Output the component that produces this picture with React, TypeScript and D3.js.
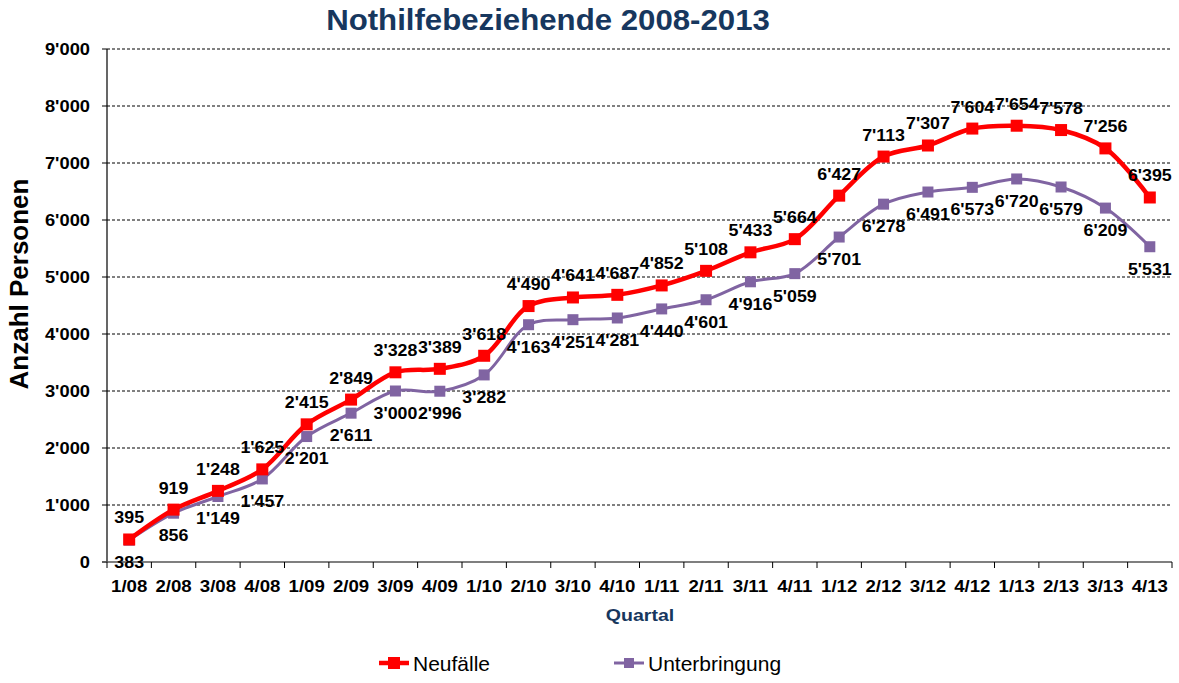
import { useEffect, useRef } from 'react';
import * as d3 from 'd3';

const quarters = [
  '1/08', '2/08', '3/08', '4/08', '1/09', '2/09', '3/09', '4/09',
  '1/10', '2/10', '3/10', '4/10', '1/11', '2/11', '3/11', '4/11',
  '1/12', '2/12', '3/12', '4/12', '1/13', '2/13', '3/13', '4/13',
];
const neufaelle = [
  395, 919, 1248, 1625, 2415, 2849, 3328, 3389, 3618, 4490, 4641, 4687,
  4852, 5108, 5433, 5664, 6427, 7113, 7307, 7604, 7654, 7578, 7256, 6395,
];
const unterbringung = [
  383, 856, 1149, 1457, 2201, 2611, 3000, 2996, 3282, 4163, 4251, 4281,
  4440, 4601, 4916, 5059, 5701, 6278, 6491, 6573, 6720, 6579, 6209, 5531,
];
const yTicks = [0, 1000, 2000, 3000, 4000, 5000, 6000, 7000, 8000, 9000];

const W = 1179;
const H = 683;
const FONT = 'Liberation Sans, Arial, sans-serif';
const fmt = (v: number) => d3.format(',')(v).replace(/,/g, "'");

export default function App() {
  const ref = useRef<SVGSVGElement>(null);

  useEffect(() => {
    if (!ref.current) return;
    const svg = d3.select(ref.current);
    svg.selectAll('*').remove();

    const left = 107;
    const right = 1172;
    const top = 49;
    const bottom = 562;

    const x = d3.scaleBand<string>().domain(quarters).range([left, right]);
    const y = d3.scaleLinear().domain([0, 9000]).range([bottom, top]);
    const cx = (q: string) => (x(q) ?? 0) + x.bandwidth() / 2;

    // the original text is a bit wider than the font, so stretch it horizontally
    const label = (
      tx: number, ty: number, txt: string, size: number, sx: number,
      anchor = 'middle', fill = '#000', weight = 'bold', middle = false,
    ) => {
      const t = svg.append('text')
        .attr('transform', `translate(${tx},${ty}) scale(${sx},1)`)
        .attr('text-anchor', anchor)
        .attr('font-family', FONT).attr('font-weight', weight)
        .attr('font-size', size).attr('fill', fill)
        .text(txt);
      if (middle) t.attr('dy', '0.36em');
      return t;
    };

    // Title
    label(548, 30, 'Nothilfebeziehende 2008-2013', 30, 1.04, 'middle', '#17375E');

    // Grid lines
    yTicks.filter((t) => t > 0).forEach((t) => {
      svg.append('line')
        .attr('x1', left).attr('x2', right - 2)
        .attr('y1', y(t)).attr('y2', y(t))
        .attr('stroke', '#000').attr('stroke-width', 1)
        .attr('stroke-dasharray', '3,2');
    });

    // Y axis
    svg.append('line')
      .attr('x1', left).attr('x2', left)
      .attr('y1', top).attr('y2', bottom)
      .attr('stroke', '#000').attr('stroke-width', 1.2);
    yTicks.forEach((t) => {
      svg.append('line')
        .attr('x1', left - 5).attr('x2', left)
        .attr('y1', y(t)).attr('y2', y(t))
        .attr('stroke', '#000');
      label(90, y(t), fmt(t), 16.5, 1.11, 'end', '#000', 'bold', true);
    });

    // X axis
    svg.append('line')
      .attr('x1', left - 5).attr('x2', right)
      .attr('y1', bottom).attr('y2', bottom)
      .attr('stroke', '#555').attr('stroke-width', 1.5);
    quarters.forEach((q, i) => {
      const bx = x(q) ?? 0;
      svg.append('line')
        .attr('x1', bx).attr('x2', bx)
        .attr('y1', bottom).attr('y2', bottom + 6)
        .attr('stroke', '#000');
      if (i === quarters.length - 1) {
        svg.append('line')
          .attr('x1', right).attr('x2', right)
          .attr('y1', bottom).attr('y2', bottom + 6)
          .attr('stroke', '#000');
      }
      label(cx(q), 592, q, 16.5, 1.13);
    });

    // Axis titles
    label(640, 621, 'Quartal', 17, 1.15, 'middle', '#17375E');
    svg.append('text')
      .attr('transform', `translate(28,284) rotate(-90)`)
      .attr('text-anchor', 'middle')
      .attr('font-family', FONT).attr('font-weight', 'bold')
      .attr('font-size', 26).attr('fill', '#000')
      .text('Anzahl Personen');

    const line = d3.line<number>()
      .x((_, i) => cx(quarters[i]))
      .y((d) => y(d))
      .curve(d3.curveCatmullRom.alpha(0.5));

    const series = [
      { name: 'Neufälle', data: neufaelle, color: '#FF0000', width: 4.5, size: 12, dy: -22 },
      { name: 'Unterbringung', data: unterbringung, color: '#8064A2', width: 3, size: 11, dy: 22 },
    ];

    // purple below red
    [series[1], series[0]].forEach((s) => {
      svg.append('path')
        .attr('d', line(s.data) ?? '')
        .attr('fill', 'none')
        .attr('stroke', s.color)
        .attr('stroke-width', s.width);
      s.data.forEach((v, i) => {
        svg.append('rect')
          .attr('x', cx(quarters[i]) - s.size / 2)
          .attr('y', y(v) - s.size / 2)
          .attr('width', s.size).attr('height', s.size)
          .attr('fill', s.color);
      });
    });

    // Data labels
    series.forEach((s) => {
      s.data.forEach((v, i) => {
        label(cx(quarters[i]), y(v) + s.dy, fmt(v), 16.5, 1.08, 'middle', '#000', 'bold', true);
      });
    });

    // Legend
    const legend = [
      { name: 'Neufälle', color: '#FF0000', x1: 379, width: 4.5, size: 12 },
      { name: 'Unterbringung', color: '#8064A2', x1: 614, width: 3, size: 10 },
    ];
    legend.forEach((l) => {
      svg.append('line')
        .attr('x1', l.x1).attr('x2', l.x1 + 30)
        .attr('y1', 663).attr('y2', 663)
        .attr('stroke', l.color).attr('stroke-width', l.width);
      svg.append('rect')
        .attr('x', l.x1 + 15 - l.size / 2).attr('y', 663 - l.size / 2)
        .attr('width', l.size).attr('height', l.size)
        .attr('fill', l.color);
      label(l.x1 + 34, 663, l.name, 21, 1, 'start', '#000', 'normal', true);
    });
  }, []);

  return (
    <svg
      ref={ref}
      width={W}
      height={H}
      style={{ position: 'absolute', left: 0, top: 0, background: '#fff' }}
    />
  );
}
